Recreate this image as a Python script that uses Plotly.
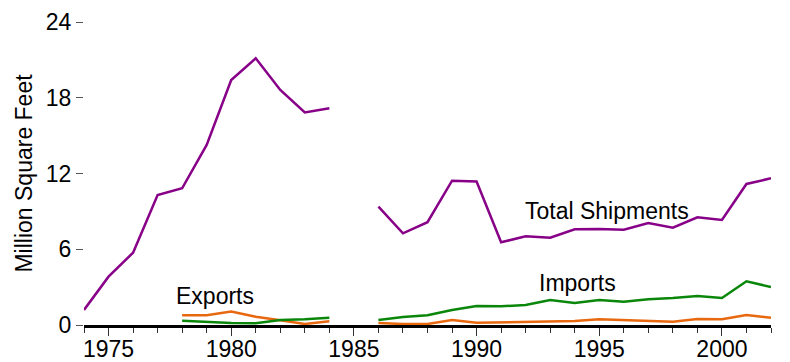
import plotly.graph_objects as go

years = list(range(1974, 2003))

total_shipments = [1.19, 3.83, 5.73, 10.3, 10.83, 14.26, 19.41, 21.13, 18.62, 16.83, 17.17,
                   None,
                   9.37, 7.26, 8.14, 11.43, 11.36, 6.55, 7.03, 6.92, 7.58, 7.61, 7.55, 8.08,
                   7.71, 8.53, 8.32, 11.17, 11.62]

imports = [None, None, None, None, 0.34, 0.24, 0.16, 0.13, 0.40, 0.45, 0.58,
           None,
           0.40, 0.63, 0.77, 1.19, 1.50, 1.48, 1.58, 1.98, 1.74, 1.98, 1.85, 2.03,
           2.14, 2.30, 2.14, 3.46, 3.01]

exports = [None, None, None, None, 0.77, 0.77, 1.06, 0.66, 0.37, 0.08, 0.29,
           None,
           0.15, 0.08, 0.08, 0.40, 0.18, 0.23, 0.23, 0.32, 0.32, 0.45, 0.37, 0.32,
           0.26, 0.48, 0.45, 0.79, 0.58]

y_ticks = [0, 6, 12, 18, 24]
x_ticks = [1975, 1980, 1985, 1990, 1995, 2000]

FONT = "Liberation Sans, Arial, sans-serif"
FS = 23

fig = go.Figure()
fig.add_trace(go.Scatter(x=years, y=exports, mode="lines",
                         line=dict(color="#e8680f", width=2.5), connectgaps=False))
fig.add_trace(go.Scatter(x=years, y=imports, mode="lines",
                         line=dict(color="#0a870a", width=2.5), connectgaps=False))
fig.add_trace(go.Scatter(x=years, y=total_shipments, mode="lines",
                         line=dict(color="#870087", width=2.5), connectgaps=False))

annos = [("Total Shipments", 1995.3, 9.03), ("Imports", 1994.1, 3.33), ("Exports", 1979.35, 2.3)]
for text, ax, ay in annos:
    fig.add_annotation(x=ax, y=ay, text=text, showarrow=False,
                       font=dict(size=FS, color="black", family=FONT))

fig.update_layout(
    width=782, height=354,
    margin=dict(l=76, r=19, t=14, b=37),
    paper_bgcolor="white", plot_bgcolor="white",
    showlegend=False,
    font=dict(family=FONT, size=FS, color="black"),
)
fig.update_xaxes(
    range=[1974, 2002], tickvals=x_ticks, ticktext=[str(v) for v in x_ticks],
    showgrid=False, zeroline=False, automargin=False,
    showline=True, linecolor="black", linewidth=3,
    ticks="outside", ticklen=8, tickwidth=1, tickcolor="#333",
    ticklabelstandoff=-7,
    minor=dict(dtick=1, tick0=1974, ticks="outside", ticklen=5, tickwidth=1, tickcolor="#333", showgrid=False),
    tickfont=dict(size=FS),
)
fig.update_yaxes(
    range=[0, 24], tickvals=y_ticks, ticktext=[str(v) for v in y_ticks],
    showgrid=False, zeroline=False, showline=False, automargin=False,
    ticks="outside", ticklen=7, tickwidth=1, tickcolor="#555",
    tickfont=dict(size=FS),
    title=dict(text="Million Square Feet", font=dict(size=FS), standoff=6),
)

fig.write_html("out.html")
